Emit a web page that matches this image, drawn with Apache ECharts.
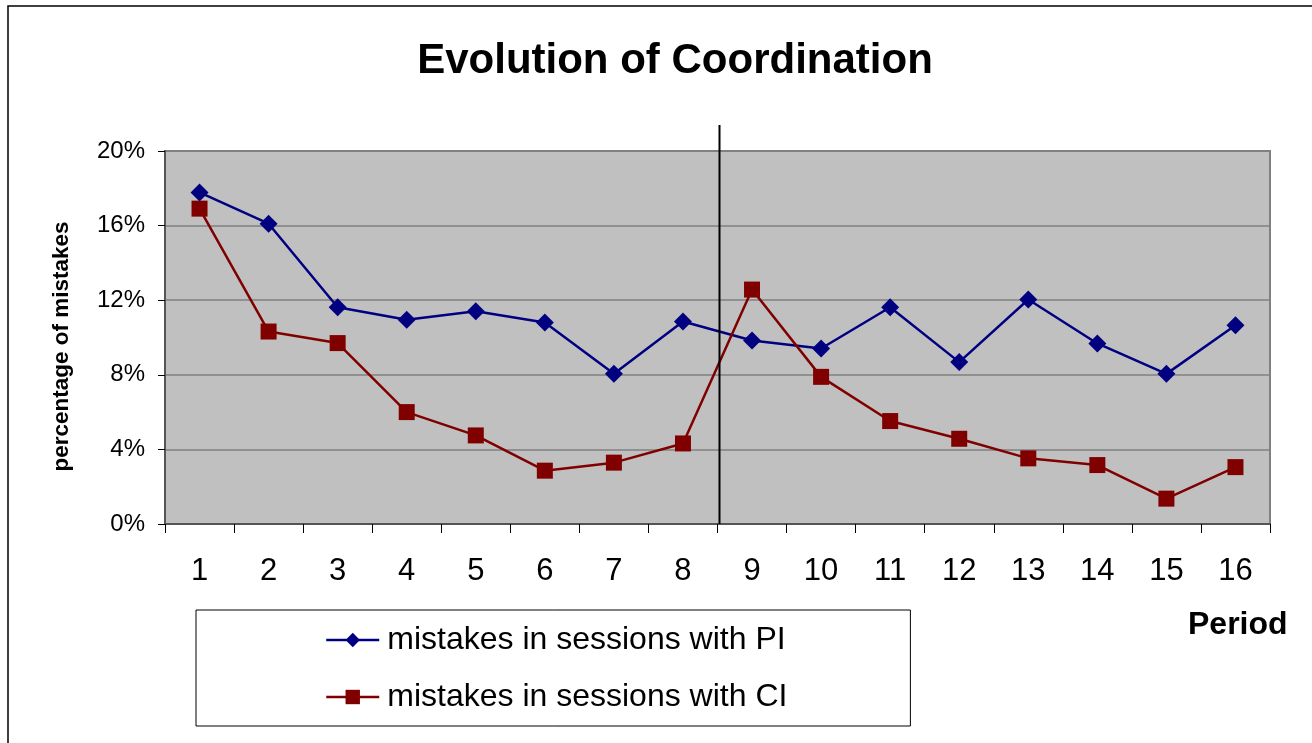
<!DOCTYPE html>
<html>
<head>
<meta charset="utf-8">
<title>Evolution of Coordination</title>
<script src="https://cdn.jsdelivr.net/npm/echarts@6/dist/echarts.min.js"></script>
<style>
  html, body { margin: 0; padding: 0; background: #fff; }
  #chart { width: 1312px; height: 743px; }
</style>
</head>
<body>
<div id="chart"></div>
<script>
// periods on the x axis
const periods = ['1', '2', '3', '4', '5', '6', '7', '8', '9', '10', '11', '12', '13', '14', '15', '16'];
// percentage of mistakes
const piMistakes = [17.78, 16.1, 11.62, 10.95, 11.41, 10.8, 8.05, 10.86, 9.84, 9.41, 11.62, 8.68, 12.04, 9.68, 8.05, 10.66];
const ciMistakes = [16.91, 10.32, 9.7, 6.0, 4.75, 2.86, 3.29, 4.32, 12.57, 7.89, 5.52, 4.57, 3.52, 3.16, 1.36, 3.05];
const seriesNames = ['mistakes in sessions with PI', 'mistakes in sessions with CI'];
// break between period 8 and 9
const breakAfter = 7;

const font = '"Liberation Sans", Arial, sans-serif';
const myChart = echarts.init(document.getElementById('chart'));

const option = {
  animation: false,
  textStyle: { fontFamily: font },
  title: {
    text: 'Evolution of Coordination',
    left: 670,
    textAlign: 'center',
    top: 35,
    textStyle: { fontSize: 42, fontWeight: 'bold', color: '#000', fontFamily: font }
  },
  grid: {
    left: 165,
    top: 151,
    width: 1105,
    height: 373,
    show: true,
    backgroundColor: '#C0C0C0',
    borderColor: '#808080',
    borderWidth: 2
  },
  legend: {
    data: seriesNames,
    orient: 'vertical',
    left: 196,
    top: 610,
    padding: [12, 123, 11, 129],
    itemGap: 21,
    itemWidth: 53,
    itemHeight: 18,
    borderColor: '#000',
    borderWidth: 1,
    backgroundColor: '#fff',
    lineStyle: { width: 2.5 },
    textStyle: { fontSize: 32, color: '#000', lineHeight: 36, fontFamily: font, padding: [0, 0, 0, 3] }
  },
  xAxis: {
    type: 'category',
    data: periods,
    boundaryGap: true,
    axisLine: { lineStyle: { color: '#555', width: 2 } },
    axisTick: { show: true, length: 9, lineStyle: { color: '#000' } },
    axisLabel: { fontSize: 31, color: '#000', margin: 32 },
    splitLine: { show: false }
  },
  yAxis: {
    type: 'value',
    min: 0,
    max: 20,
    interval: 4,
    name: 'percentage of mistakes',
    nameLocation: 'middle',
    nameGap: 92,
    nameRotate: 90,
    nameTextStyle: { fontSize: 22.5, fontWeight: 'bold', color: '#000', padding: [0, 18, 0, 0] },
    axisLine: { show: true, lineStyle: { color: '#555', width: 2 } },
    axisTick: { show: true, length: 7, lineStyle: { color: '#000' } },
    axisLabel: { fontSize: 24, color: '#000', margin: 20, formatter: '{value}%' },
    splitLine: { lineStyle: { color: '#808080', width: 1.5 } }
  },
  series: [
    {
      name: seriesNames[0],
      type: 'line',
      data: piMistakes,
      color: '#000080',
      symbol: 'diamond',
      symbolSize: 18,
      lineStyle: { width: 2.5, color: '#000080' },
      itemStyle: { color: '#000080' }
    },
    {
      name: seriesNames[1],
      type: 'line',
      data: ciMistakes,
      color: '#800000',
      symbol: 'rect',
      symbolSize: 16,
      lineStyle: { width: 2.5, color: '#800000' },
      itemStyle: { color: '#800000' }
    }
  ]
};

myChart.setOption(option);

// vertical break line between two periods, outer frame and the "Period" label
const a = myChart.convertToPixel({ xAxisIndex: 0 }, breakAfter);
const b = myChart.convertToPixel({ xAxisIndex: 0 }, breakAfter + 1);
const xBreak = (a + b) / 2 + 2;
const yBottom = myChart.convertToPixel({ yAxisIndex: 0 }, 0);

myChart.setOption({
  graphic: [
    {
      type: 'rect',
      shape: { x: 8, y: 6, width: 1330, height: 760 },
      style: { fill: null, stroke: '#000', lineWidth: 1.5 },
      silent: true,
      z: -1
    },
    {
      type: 'line',
      shape: { x1: xBreak, y1: 125, x2: xBreak, y2: yBottom },
      style: { stroke: '#000', lineWidth: 2 },
      z: 10
    },
    {
      type: 'text',
      left: 1188,
      top: 609,
      style: { text: 'Period', font: 'bold 32px ' + font, fill: '#000' }
    }
  ]
});

window.onresize = () => {
  try {
    myChart.resize()
  } catch (error) {
  }
}
</script>
</body>
</html>
